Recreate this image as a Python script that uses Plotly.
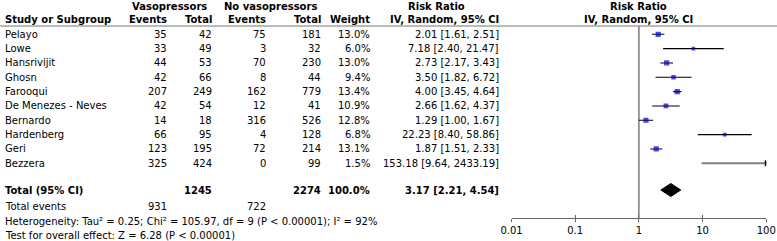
import plotly.graph_objects as go

W, H = 777, 241

studies = ["Pelayo", "Lowe", "Hansrivijit", "Ghosn", "Farooqui", "De Menezes - Neves",
           "Bernardo", "Hardenberg", "Geri", "Bezzera"]
vaso_events = [35, 33, 44, 42, 207, 42, 14, 66, 123, 325]
vaso_total = [42, 49, 53, 66, 249, 54, 18, 95, 195, 424]
novaso_events = [75, 3, 70, 8, 162, 12, 316, 4, 72, 0]
novaso_total = [181, 32, 230, 44, 779, 41, 526, 128, 214, 99]
weight = [13.0, 6.0, 13.0, 9.4, 13.4, 10.9, 12.8, 6.8, 13.1, 1.5]
rr = [2.01, 7.18, 2.73, 3.50, 4.00, 2.66, 1.29, 22.23, 1.87, 153.18]
rr_lo = [1.61, 2.40, 2.17, 1.82, 3.45, 1.62, 1.00, 8.40, 1.51, 9.64]
rr_hi = [2.51, 21.47, 3.43, 6.72, 4.64, 4.37, 1.67, 58.86, 2.33, 2433.19]

total_vaso, total_novaso = 1245, 2274
total_events_vaso, total_events_novaso = 931, 722
pooled_rr, pooled_lo, pooled_hi = 3.17, 2.21, 4.54
tick_vals = [0.01, 0.1, 1, 10, 100]
tick_text = ["0.01", "0.1", "1", "10", "100"]
AX_MIN, AX_MAX = 0.01, 100

# layout geometry (pixels)
ROW0, STEP = 34.3, 14.33
row_y = [ROW0 + i * STEP for i in range(len(studies))]
Y_TOTAL, Y_TEV, Y_HET, Y_TEST = 190, 206.5, 221, 235
Y_H1, Y_H2, Y_LINE, Y_AXIS = 6, 19.5, 26, 218
AX_L, AX_R = 511.5, 766.3

FONT = "DejaVu Sans"
FS = 10

fig = go.Figure()

# vertical no-effect line
fig.add_trace(go.Scatter(x=[1, 1], y=[Y_LINE, Y_AXIS], mode="lines",
                         line=dict(color="#666666", width=1.3), hoverinfo="skip", showlegend=False))

# CI lines
for i in range(len(studies)):
    lo = max(rr_lo[i], AX_MIN)
    hi = min(rr_hi[i], AX_MAX)
    clipped = rr_hi[i] > AX_MAX
    fig.add_trace(go.Scatter(x=[lo, hi], y=[row_y[i], row_y[i]], mode="lines",
                             line=dict(color="#808080" if clipped else "black",
                                       width=2 if clipped else 1.1),
                             hoverinfo="skip", showlegend=False))
    if clipped:
        fig.add_trace(go.Scatter(x=[AX_MAX], y=[row_y[i]], mode="markers",
                                 marker=dict(symbol="triangle-right", size=6, color="black"),
                                 hoverinfo="skip", showlegend=False))

# point estimates
vis = [i for i in range(len(studies)) if AX_MIN <= rr[i] <= AX_MAX]
fig.add_trace(go.Scatter(x=[rr[i] for i in vis], y=[row_y[i] for i in vis], mode="markers",
                         marker=dict(symbol="square", color="#0000CC",
                                     size=[1.45 * weight[i] ** 0.5 for i in vis], line=dict(width=0)),
                         hoverinfo="skip", showlegend=False))

# pooled diamond
fig.add_trace(go.Scatter(x=[pooled_lo, pooled_rr, pooled_hi, pooled_rr, pooled_lo],
                         y=[Y_TOTAL, Y_TOTAL - 6.5, Y_TOTAL, Y_TOTAL + 6.5, Y_TOTAL],
                         mode="lines", fill="toself", fillcolor="black",
                         line=dict(color="black", width=1), hoverinfo="skip", showlegend=False))

ann = []


def txt(s, xpx, ypx, anchor="left", bold=False):
    ann.append(dict(text=f"<b>{s}</b>" if bold else s, x=xpx / W, y=ypx, xref="paper", yref="y",
                    xanchor=anchor, yanchor="middle", showarrow=False,
                    font=dict(family=FONT, size=FS, color="black")))


# headers
txt("Vasopressors", 169, Y_H1, "center", True)
txt("No vasopressors", 270, Y_H1, "center", True)
txt("Risk Ratio", 437, Y_H1, "center", True)
txt("Risk Ratio", 638, Y_H1, "center", True)
txt("Study or Subgroup", 3, Y_H2, "left", True)
txt("Events", 169, Y_H2, "right", True)
txt("Total", 214, Y_H2, "right", True)
txt("Events", 268, Y_H2, "right", True)
txt("Total", 323, Y_H2, "right", True)
txt("Weight", 372, Y_H2, "right", True)
txt("IV, Random, 95% CI", 501, Y_H2, "right", True)
txt("IV, Random, 95% CI", 638, Y_H2, "center", True)

for i, s in enumerate(studies):
    y = row_y[i]
    txt(s, 3, y)
    txt(str(vaso_events[i]), 169, y, "right")
    txt(str(vaso_total[i]), 214, y, "right")
    txt(str(novaso_events[i]), 268, y, "right")
    txt(str(novaso_total[i]), 323, y, "right")
    txt(f"{weight[i]:.1f}%", 372, y, "right")
    txt(f"{rr[i]:.2f} [{rr_lo[i]:.2f}, {rr_hi[i]:.2f}]", 501, y, "right")

txt("Total (95% CI)", 3, Y_TOTAL, "left", True)
txt(str(total_vaso), 214, Y_TOTAL, "right", True)
txt(str(total_novaso), 323, Y_TOTAL, "right", True)
txt("100.0%", 372, Y_TOTAL, "right", True)
txt(f"{pooled_rr:.2f} [{pooled_lo:.2f}, {pooled_hi:.2f}]", 501, Y_TOTAL, "right", True)
txt("Total events", 3, Y_TEV)
txt(str(total_events_vaso), 169, Y_TEV, "right")
txt(str(total_events_novaso), 268, Y_TEV, "right")
txt("Heterogeneity: Tau² = 0.25; Chi² = 105.97, df = 9 (P < 0.00001); I² = 92%", 3, Y_HET)
txt("Test for overall effect: Z = 6.28 (P < 0.00001)", 3, Y_TEST)

fig.update_layout(
    width=W, height=H, margin=dict(l=0, r=0, t=0, b=0),
    paper_bgcolor="white", plot_bgcolor="white",
    annotations=ann,
    shapes=[dict(type="line", xref="paper", yref="y", x0=0, x1=1, y0=Y_LINE, y1=Y_LINE,
                 line=dict(color="#777777", width=1.2))],
    xaxis=dict(type="log", range=[-2, 2], domain=[AX_L / W, AX_R / W],
               anchor="free", position=1 - Y_AXIS / H, automargin=False,
               showline=True, linecolor="#666666", linewidth=1.3,
               ticks="outside", ticklen=3, tickcolor="#666666", tickwidth=1.3,
               tickvals=tick_vals, ticktext=tick_text, showgrid=False, zeroline=False,
               tickfont=dict(family=FONT, size=FS, color="black")),
    xaxis2=dict(type="log", range=[-2, 2], domain=[AX_L / W, AX_R / W], overlaying="x",
                anchor="free", position=1 - Y_AXIS / H, showline=False, automargin=False,
                ticks="inside", ticklen=3, tickcolor="#666666", tickwidth=1.3,
                tickvals=tick_vals, showticklabels=False, showgrid=False, zeroline=False),
    yaxis=dict(range=[H, 0], domain=[0, 1], visible=False, fixedrange=True, automargin=False),
    showlegend=False,
)
fig.add_trace(go.Scatter(x=[1], y=[Y_AXIS], xaxis="x2", mode="markers", marker=dict(opacity=0),
                         hoverinfo="skip", showlegend=False))

fig.write_html("out.html", config={"displayModeBar": False},
               post_script="document.body.style.margin='0';document.body.style.padding='0';")
